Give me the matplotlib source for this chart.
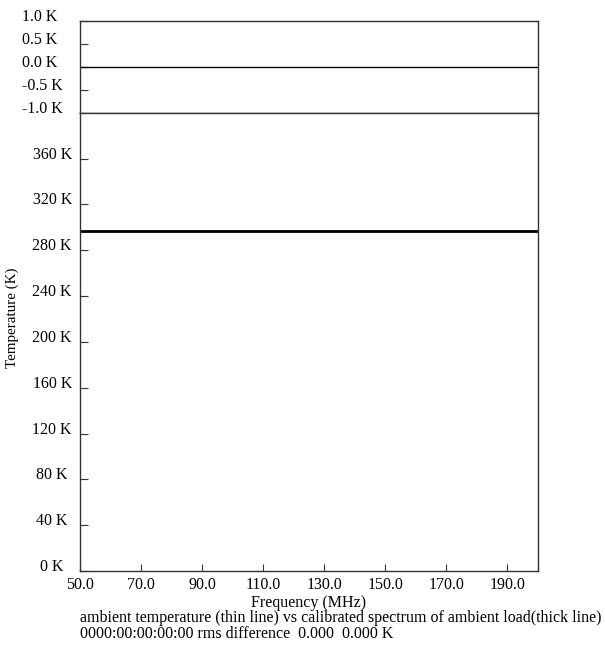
import numpy as np
import matplotlib
matplotlib.use("Agg")
import matplotlib.pyplot as plt

plt.rcParams['font.family'] = ['Liberation Serif', 'DejaVu Serif']

# spectrum data (MHz, K)
freq_mhz = np.array([50.0, 200.0])
ambient_k = np.array([297.0, 297.0])
calibrated_k = np.array([297.0, 297.0])
residual_k = calibrated_k - ambient_k

resid_ticks = [1.0, 0.5, 0.0, -0.5, -1.0]
temp_ticks = [0, 40, 80, 120, 160, 200, 240, 280, 320, 360]
freq_ticks = [50.0, 70.0, 90.0, 110.0, 130.0, 150.0, 170.0, 190.0]

W, H = 605, 645
fig = plt.figure(figsize=(W / 100, H / 100), dpi=100)

left, right = 80 / W, 538 / W
top_y0, mid_y, bot_y = 20.7, 112.7, 571.0
ax_r = fig.add_axes([left, 1 - mid_y / H, right - left, (mid_y - top_y0) / H])
ax_t = fig.add_axes([left, 1 - bot_y / H, right - left, (bot_y - mid_y) / H])

fs = 11.5
frame = '#333333'

for ax in (ax_r, ax_t):
    for s in ax.spines.values():
        s.set_color(frame)
        s.set_linewidth(1.0)
    ax.set_xlim(50, 200)
    ax.tick_params(axis='y', direction='in', length=6, width=0.8, color=frame,
                   right=False, labelsize=fs)

# residual panel
ax_r.plot(freq_mhz, residual_k, color='black', lw=1.0)
ax_r.set_ylim(-1.0, 1.0)
ax_r.set_yticks(resid_ticks)
ax_r.set_yticklabels([f'{v:.1f} K' for v in resid_ticks], ha='left', va='baseline')
ax_r.tick_params(axis='y', pad=41.5)
ax_r.tick_params(axis='x', bottom=False, labelbottom=False)

# temperature panel
ax_t.plot(freq_mhz, ambient_k, color='black', lw=0.8)
ax_t.plot(freq_mhz, calibrated_k, color='black', lw=2.0)
ax_t.set_ylim(0, 400)
ax_t.set_yticks(temp_ticks)
ax_t.set_yticklabels([f'{v} K' for v in temp_ticks], ha='center', va='baseline')
ax_t.tick_params(axis='y', pad=20)
ax_t.set_xticks(freq_ticks)
ax_t.set_xticklabels([f'{v:.1f}' for v in freq_ticks])
ax_t.tick_params(axis='x', direction='in', length=5, width=0.8, color=frame,
                 labelsize=fs, pad=4.5, top=False)
ax_t.set_xlabel('Frequency (MHz)', fontsize=fs, labelpad=1.5)

fig.text(12 / W, 1 - 318 / H, 'Temperature (K)', rotation=90, fontsize=10.8,
         ha='center', va='center')
fig.text(80 / W, 1 - 618 / H,
         'ambient temperature (thin line) vs calibrated spectrum of ambient load(thick line)',
         fontsize=fs, ha='left', va='center')
fig.text(80 / W, 1 - 634 / H, '0000:00:00:00:00 rms difference  0.000  0.000 K',
         fontsize=fs, ha='left', va='center')

fig.savefig('out.png', dpi=100)
